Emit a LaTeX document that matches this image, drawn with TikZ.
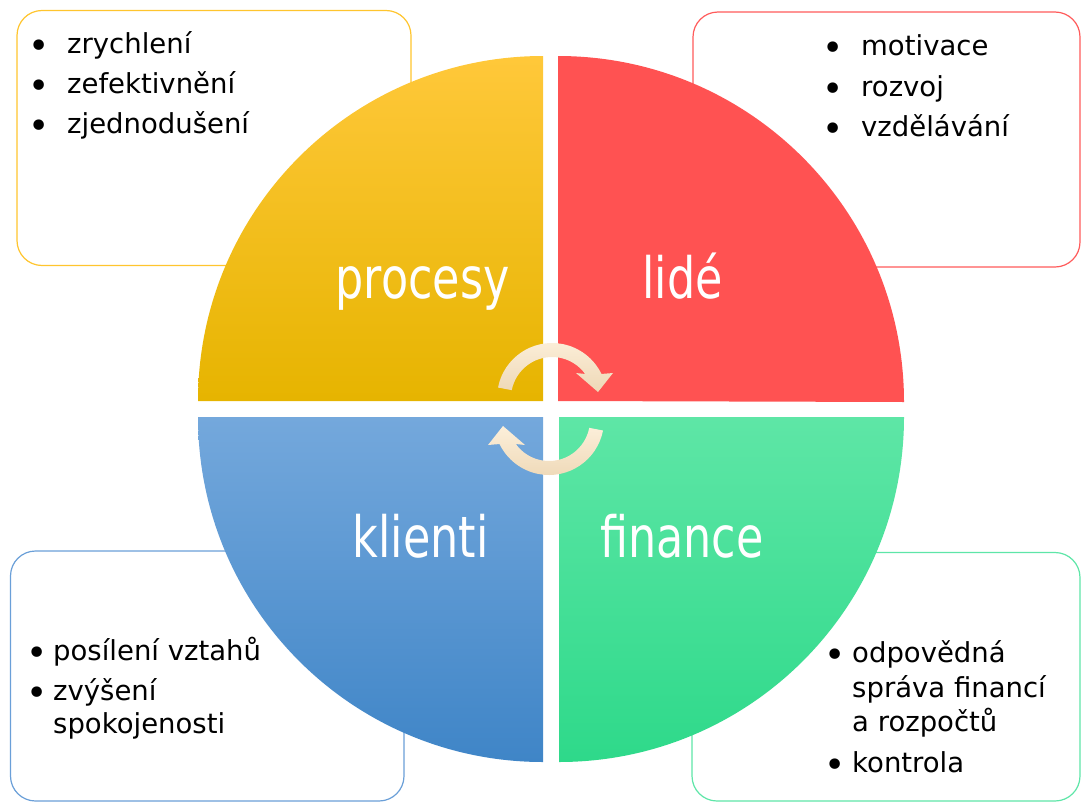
\documentclass[tikz,border=0pt]{standalone}
\usepackage{fontspec}
\setmainfont{DejaVu Sans}
\newfontfamily\labelfont[FakeStretch=0.78]{DejaVu Sans}
\definecolor{yboxc}{HTML}{FFC52E}
\definecolor{rboxc}{HTML}{FF5B5B}
\definecolor{bboxc}{HTML}{6A9FD8}
\definecolor{gboxc}{HTML}{5EE6A8}
\definecolor{ytop}{HTML}{FFC83A}
\definecolor{ymid}{HTML}{FDC500}
\definecolor{ybot}{HTML}{E6B400}
\definecolor{redq}{HTML}{FF5252}
\definecolor{btop}{HTML}{74A8DC}
\definecolor{bbot}{HTML}{3F85C7}
\definecolor{gtop}{HTML}{5EE6A6}
\definecolor{gbot}{HTML}{2ED98A}
\definecolor{artop}{HTML}{FCEFDA}
\definecolor{arbot}{HTML}{EED8B6}
\begin{document}
\begin{tikzpicture}[x=1pt,y=1pt,
  infobox/.style={line width=1.2pt, rounded corners=25pt, fill=white},
  biglabel/.style={text=white, font=\labelfont\fontsize{57}{60}\selectfont, anchor=base, inner sep=0pt},
  itemtext/.style={font=\fontsize{27.5}{33}\selectfont, anchor=base west, inner sep=0pt, text=black},
  bul/.style={font=\fontsize{36}{40}\selectfont, anchor=base, inner sep=0pt, text=black, yshift=-5pt},
  cyclearrow/.style={top color=artop, bottom color=arbot, draw=none}
]
\useasboundingbox (0,0) rectangle (1081,-803);

% side boxes
\draw[infobox, draw=yboxc] (17,-10.5) rectangle (411,-265.5);
\draw[infobox, draw=rboxc] (693,-12) rectangle (1080,-267);
\draw[infobox, draw=bboxc] (10.5,-551) rectangle (404,-801);
\draw[infobox, draw=gboxc] (692,-552.5) rectangle (1080,-801);

% quadrants
\shade[top color=ytop, middle color=ymid, bottom color=ybot]
  (543,-401) -- (198,-401) arc[start angle=180, end angle=90, radius=345] -- cycle;
\fill[redq]
  (558,-401) -- (558,-56) arc[start angle=90, end angle=0, radius=346] -- cycle;
\shade[top color=btop, bottom color=bbot]
  (543,-417) -- (198,-417) arc[start angle=180, end angle=270, radius=345] -- cycle;
\shade[top color=gtop, bottom color=gbot]
  (559,-417) -- (904,-417) arc[start angle=0, end angle=-90, radius=345] -- cycle;

% quadrant labels
\node[biglabel] (procesy) at (422.5,-298) {procesy};
\node[biglabel] (lide) at (682.5,-298) {lidé};
\node[biglabel] (klienti) at (420.5,-557) {klienti};
\node[biglabel] (finance) at (682,-557) {finance};

% cycle arrows
\coordinate (ac1) at (552,-398);
\coordinate (ac2) at (549,-420);
\shade[cyclearrow]
  ([shift={(169:55)}]ac1) arc[start angle=169, end angle=25.9, radius=55]
  -- (613,-373) -- (598,-392) -- (576,-373)
  -- ([shift={(35.8:41)}]ac1) arc[start angle=35.8, end angle=169, radius=41] -- cycle;
\shade[cyclearrow]
  ([shift={(-11:55)}]ac2) arc[start angle=-11, end angle=-154.1, radius=55]
  -- (488,-445) -- (503,-426) -- (525,-445)
  -- ([shift={(-144.2:41)}]ac2) arc[start angle=-144.2, end angle=-11, radius=41] -- cycle;

% top-left items
\node[bul] (tlb1) at (39,-53) {•};
\node[itemtext] (tl1) at (67,-53) {zrychlení};
\node[bul] (tlb2) at (39,-93) {•};
\node[itemtext] (tl2) at (67,-93) {zefektivnění};
\node[bul] (tlb3) at (39,-133) {•};
\node[itemtext] (tl3) at (67,-133) {zjednodušení};

% top-right items
\node[bul] (trb1) at (833,-55) {•};
\node[itemtext] (tr1) at (861,-55) {motivace};
\node[bul] (trb2) at (833,-96) {•};
\node[itemtext] (tr2) at (861,-96) {rozvoj};
\node[bul] (trb3) at (833,-136) {•};
\node[itemtext] (tr3) at (861,-136) {vzdělávání};

% bottom-left items
\node[bul] (blb1) at (37,-660) {•};
\node[itemtext] (bl1) at (53,-660) {posílení vztahů};
\node[bul] (blb2) at (37,-700) {•};
\node[itemtext] (bl2) at (53,-700) {zvýšení};
\node[itemtext] (bl3) at (53,-733) {spokojenosti};

% bottom-right items
\node[bul] (brb1) at (835,-662) {•};
\node[itemtext] (br1) at (852,-662) {odpovědná};
\node[itemtext] (br2) at (852,-697) {správa financí};
\node[itemtext] (br3) at (852,-731) {a rozpočtů};
\node[bul] (brb2) at (835,-772) {•};
\node[itemtext] (br4) at (852,-772) {kontrola};
\end{tikzpicture}
\end{document}
